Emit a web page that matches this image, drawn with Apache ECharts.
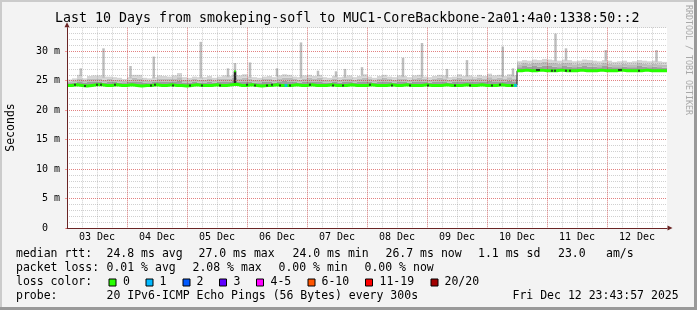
<!DOCTYPE html>
<html><head><meta charset="utf-8">
<script src="https://cdn.jsdelivr.net/npm/echarts@6/dist/echarts.min.js"></script>
<style>html,body{margin:0;padding:0;background:#f3f3f3}#c{width:697px;height:310px}</style>
</head><body><div id="c"></div>
<script>
// ---------------- data (hours from 03 Dec 00:00, 2-hour buckets) ----------------
const dayLabels = ['03 Dec','04 Dec','05 Dec','06 Dec','07 Dec','08 Dec','09 Dec','10 Dec','11 Dec','12 Dec'];
const bucketHours = 2;
const median = [
 24.2,24.3,24.2,24.1,24.2,24.3,24.3,24.2,24.2,24.3, 24.2,24.2,24.3,24.2,24.1,24.2,24.2,24.3,24.2,24.2,
 24.3,24.2,24.2,24.1,24.2,24.3,24.2,24.2,24.2,24.3, 24.2,24.2,24.3,24.4,24.2,24.2,24.3,24.2,24.1,24.2,
 24.2,24.3,24.2,24.2,24.2,24.3,24.2,24.2,24.3,24.2, 24.2,24.2,24.3,24.2,24.2,24.2,24.3,24.2,24.2,24.2,
 24.3,24.2,24.2,24.2,24.3,24.2,24.2,24.3,24.2,24.2, 24.2,24.3,24.2,24.2,24.2,24.3,24.2,24.2,24.2,24.3,
 24.2,24.2,24.3,24.2,24.2,24.2,24.3,24.2,24.2,24.2, 26.7,26.8,26.7,26.7,26.8,26.7,26.7,26.7,26.8,26.7,
 26.7,26.7,26.8,26.7,26.7,26.7,26.8,26.7,26.7,26.7, 26.8,26.7,26.7,26.7,26.7,26.8,26.7,26.7,26.7,26.7
];
const smokeDark = [
 24.6,24.7,24.9,24.7,24.8,24.9,24.8,24.7,24.8,24.8, 24.7,24.6,24.8,24.9,24.8,24.7,24.6,24.8,24.9,24.8,
 24.8,24.9,25.0,24.7,24.7,24.8,24.7,24.7,24.8,24.7, 24.8,24.9,24.8,25.0,24.8,24.9,24.8,24.7,24.6,24.8,
 24.8,24.7,24.9,25.0,24.9,24.8,24.7,24.8,24.9,24.8, 24.9,24.7,24.7,24.8,24.7,24.8,24.9,24.7,24.8,24.9,
 24.8,24.7,24.8,24.9,24.8,24.7,24.9,24.8,24.7,24.8, 24.9,24.8,24.7,24.8,24.9,24.9,24.7,24.8,24.9,24.8,
 24.9,24.8,24.9,24.8,25.0,24.9,24.9,24.8,25.0,24.9, 27.3,27.5,27.4,27.5,27.4,27.6,27.5,27.4,27.3,27.5,
 27.4,27.3,27.4,27.5,27.4,27.4,27.3,27.5,27.4,27.3, 27.3,27.4,27.3,27.3,27.5,27.4,27.3,27.4,27.3,27.2
];
const smokeMid = [
 24.9,25.1,25.4,25.1,25.3,25.4,25.3,25.2,25.3,25.2, 25.1,25.0,25.2,25.5,25.4,25.1,25.0,25.2,25.4,25.3,
 25.3,25.4,25.6,25.2,25.1,25.3,25.2,25.2,25.3,25.1, 25.3,25.4,25.3,25.5,25.4,25.5,25.3,25.2,25.1,25.3,
 25.3,25.2,25.4,25.5,25.5,25.3,25.2,25.4,25.5,25.3, 25.5,25.2,25.1,25.3,25.2,25.3,25.4,25.2,25.3,25.5,
 25.3,25.1,25.3,25.5,25.3,25.2,25.4,25.3,25.2,25.4, 25.5,25.3,25.2,25.3,25.5,25.4,25.2,25.3,25.5,25.3,
 25.4,25.3,25.5,25.3,25.6,25.4,25.5,25.3,25.6,25.4, 27.8,28.0,27.9,28.1,28.0,28.2,28.1,28.0,27.9,28.1,
 28.0,27.8,27.9,28.1,28.0,27.9,27.8,28.0,27.9,27.8, 27.8,27.9,27.8,27.8,28.0,27.9,27.8,27.9,27.8,27.7
];
const smokeLight = [
 25.2,25.4,26.0,25.4,25.8,25.9,25.9,25.7,25.7,25.6, 25.5,25.3,25.6,26.0,26.0,25.5,25.4,25.6,25.9,25.8,
 25.7,25.9,26.3,25.6,25.5,25.7,25.6,25.6,25.8,25.5, 25.7,25.9,25.8,26.0,25.9,26.1,25.7,25.6,25.5,25.7,
 25.8,25.6,25.9,26.1,26.0,25.7,25.6,25.9,26.0,25.8, 26.0,25.6,25.5,25.8,25.6,25.7,25.9,25.6,25.8,26.1,
 25.7,25.5,25.8,26.0,25.7,25.6,25.9,25.8,25.6,25.9, 26.0,25.7,25.6,25.8,26.0,25.9,25.6,25.7,26.1,25.8,
 25.9,25.7,26.0,25.8,26.2,25.9,26.0,25.8,26.1,25.9, 28.3,28.5,28.4,28.6,28.5,28.7,28.6,28.5,28.4,28.6,
 28.5,28.3,28.4,28.6,28.5,28.4,28.3,28.5,28.4,28.2, 28.3,28.4,28.2,28.3,28.5,28.4,28.3,28.4,28.3,28.2
];
const spikeHours = [5.5,14.6,25.4,34.7,53.5,64.4,67.2,73.2,84.0,93.6,100.4,107.6,111.2,118.0,134.4,142.0,152.0,160.0,174.3,178.4,195.4,199.6,215.5,235.8];
const spikeTops  = [27.1,30.5,27.5,29.1,31.6,27.1,28.0,28.1,27.1,31.5,26.7,26.6,27.0,27.3,28.9,31.4,27.0,28.5,30.8,27.1,33.0,30.5,30.2,30.2];
const darkSpikeHours = [67.2];
const darkSpikeTops  = [26.6];
const blackDotHours = [3.2,7.2,12,13.6,19.2,33.6,35.2,42.4,49.2,54,61.2,72,75.2,80,82,85.2,89.2,97.2,106.4,110.4,121.2,130,137.2,144.4,155.2,161.2,170,173.2,178,188,188.8,194,195.2,199.6,201.2,220.8,221.6,228.8];
const lossDotHours = [87.6,179.4];
const lossDotColors = ['#00b8ff','#00b8ff'];
const yTicks = [0,5,10,15,20,25,30];

const lossLegend = [['0','#26ff00'],['1','#00b8ff'],['2','#0059ff'],['3','#5e00ff'],['4-5','#ff00ff'],['6-10','#ff5500'],['11-19','#ff0000'],['20/20','#a10000']];
const row1 = [['median rtt:',16],['24.8 ms avg',106.5],['27.0 ms max',198.5],['24.0 ms min',292.5],['26.7 ms now',385.5],['1.1 ms sd',478],['23.0',558],['am/s',606]];
const row2 = [['packet loss:',16],['0.01 % avg',106.5],['2.08 % max',192.5],['0.00 % min',278.5],['0.00 % now',364.5]];
const row4 = [['probe:',16],['20 IPv6-ICMP Echo Pings (56 Bytes) every 300s',106.5],['Fri Dec 12 23:43:57 2025',512.5]];
const lossBoxX = [108.5,145.5,182.5,219,256,307.5,365,430.5];
const lossLabelX = [123,159.5,196.5,233.5,270.5,321.5,379.5,444.5];

// ---------------- build ----------------
const MONO = '"DejaVu Sans Mono", monospace';
const medAt = h => median[Math.min(median.length-1, Math.floor(h / bucketHours))];
const lightAt = h => smokeLight[Math.min(median.length-1, Math.floor(h / bucketHours))];

const smokeData = median.map((m,i) => [i*bucketHours, (i+1)*bucketHours, m, smokeDark[i], smokeMid[i], smokeLight[i]]);
const medPts = [], greenPts = [];
median.forEach((v,i) => {
  const x0 = i*bucketHours, x1 = x0 + bucketHours;
  if (i > 0 && Math.abs(v - median[i-1]) > 0.5) greenPts.push([x0, null]);
  medPts.push([x0, v], [x1, v]);
  greenPts.push([x0, v], [x1, v]);
});
const spikeData = spikeHours.map((h,i) => [h, lightAt(h) - 0.2, spikeTops[i], 0])
  .concat(darkSpikeHours.map((h,i) => [h, medAt(h), darkSpikeTops[i], 1]));

const grey = 'rgba(120,120,120,0.35)';
const red = 'rgba(255,0,0,0.38)';
const axisCol = '#6a2424';

const graphic = [];
graphic.push({type:'rect', shape:{x:0,y:0,width:697,height:2}, style:{fill:'#cbcbcb'}, z:100});
graphic.push({type:'rect', shape:{x:0,y:0,width:2,height:310}, style:{fill:'#cbcbcb'}, z:100});
graphic.push({type:'rect', shape:{x:0,y:307,width:697,height:3}, style:{fill:'#999999'}, z:100});
graphic.push({type:'rect', shape:{x:694,y:0,width:3,height:310}, style:{fill:'#999999'}, z:100});
graphic.push({type:'text', x:55, y:18.7, style:{text:'Last 10 Days from smokeping-sofl to MUC1-CoreBackbone-2a01:4a0:1338:50::2', font:'13.3px '+MONO, fill:'#000', align:'left', verticalAlign:'middle'}});
graphic.push({type:'text', x:11, y:127.5, rotation:Math.PI/2, style:{text:'Seconds', font:'11.5px '+MONO, fill:'#000', align:'center', verticalAlign:'middle'}});
graphic.push({type:'text', x:688.5, y:60, rotation:-Math.PI/2, style:{text:'RRDTOOL / TOBI OETIKER', font:'8.3px '+MONO, fill:'#a8a8a8', align:'center', verticalAlign:'middle'}});
const addRow = (segs, y) => segs.forEach(s => graphic.push({type:'text', x:s[1], y:y, style:{text:s[0], font:'11.5px '+MONO, fill:'#000', align:'left', verticalAlign:'middle'}}));
addRow(row1, 254.3);
addRow(row2, 268.3);
addRow([['loss color:',16]], 282.3);
addRow(row4, 296.3);
lossLegend.forEach((l,i) => {
  graphic.push({type:'rect', shape:{x:lossBoxX[i]+0.5, y:279, width:7, height:7}, style:{fill:l[1], stroke:'#000', lineWidth:1}});
  graphic.push({type:'text', x:lossLabelX[i], y:282.3, style:{text:l[0], font:'11.5px '+MONO, fill:'#000', align:'left', verticalAlign:'middle'}});
});

const hid = {show:false};
const option = {
  animation:false,
  backgroundColor:'#f3f3f3',
  grid:[{left:67, top:27.7, width:600, height:200.3, show:true, backgroundColor:'#ffffff', borderWidth:0}],
  xAxis:[
    {type:'value', min:0, max:240, interval:6, z:3, axisLine:hid, axisTick:hid, axisLabel:hid,
     splitLine:{show:true, showMaxLine:false, showMinLine:false, lineStyle:{color:grey, width:1, type:[1,1]}}},
    {type:'value', min:0, max:240, interval:24, z:4, axisLine:hid, axisTick:hid, axisLabel:hid,
     splitLine:{show:true, showMaxLine:false, showMinLine:false, lineStyle:{color:red, width:1, type:[1,1]}}},
    {type:'category', data:dayLabels, boundaryGap:true, position:'bottom', axisLine:hid, axisTick:hid, splitLine:hid,
     axisLabel:{interval:0, margin:4.5, color:'#000', fontFamily:MONO, fontSize:10}},
    {type:'value', min:0, max:240, position:'bottom', z:6, axisTick:hid, axisLabel:hid, splitLine:hid,
     axisLine:{show:true, onZero:false, symbol:['none','triangle'], symbolSize:[5,5], symbolOffset:[0,3], lineStyle:{color:axisCol, width:1}}}
  ],
  yAxis:[
    {type:'value', min:0, max:34, interval:1, z:3, axisLine:hid, axisTick:hid, axisLabel:hid,
     splitLine:{show:true, showMinLine:false, lineStyle:{color:grey, width:1, type:[1,1]}}},
    {type:'value', min:0, max:34, interval:5, z:4, position:'left', axisLine:hid,
     axisTick:{show:true, length:2, lineStyle:{color:red}},
     axisLabel:{show:true, showMaxLabel:false, margin:7, color:'#000', fontFamily:MONO, fontSize:10,
       formatter: v => yTicks.indexOf(v) < 0 ? '' : (v === 0 ? '0  ' : (v < 10 ? ' ' : '') + v + ' m')},
     splitLine:{show:true, showMaxLine:false, showMinLine:false, lineStyle:{color:red, width:1, type:[1,1]}}},
    {type:'value', min:0, max:34, position:'left', z:6, axisTick:hid, axisLabel:hid, splitLine:hid,
     axisLine:{show:true, onZero:false, symbol:['none','triangle'], symbolSize:[5,5], symbolOffset:[0,3], lineStyle:{color:axisCol, width:1}}}
  ],
  series:[
    {type:'custom', name:'smoke', xAxisIndex:0, yAxisIndex:0, z:2, silent:true, data:smokeData,
     encode:{x:[0,1], y:[2,3,4,5]},
     renderItem:(params, api) => {
       const x0 = api.value(0), x1 = api.value(1);
       const lv = [api.value(2), api.value(3), api.value(4), api.value(5)];
       const cols = ['#9e9e9e','#bcbcbc','#d4d4d4'];
       const children = [];
       for (let k = 0; k < 3; k++) {
         const a = api.coord([x0, lv[k]]), b = api.coord([x1, lv[k+1]]);
         children.push({type:'rect', shape:{x:a[0], y:b[1], width:b[0]-a[0], height:a[1]-b[1]}, style:{fill:cols[k]}});
       }
       return {type:'group', children};
     }},
    {type:'custom', name:'spikes', xAxisIndex:0, yAxisIndex:0, z:2, silent:true, data:spikeData,
     encode:{x:0, y:[1,2]},
     renderItem:(params, api) => {
       const h = api.value(0);
       const a = api.coord([h, api.value(1)]), b = api.coord([h, api.value(2)]);
       const dark = api.value(3) === 1;
       const w = 2.5;
       return {type:'rect', shape:{x:a[0]-w/2, y:b[1], width:w, height:a[1]-b[1]}, style:{fill: dark ? '#262626' : '#bebebe'}};
     }},
    {type:'line', name:'median', xAxisIndex:0, yAxisIndex:0, z:5, data:medPts, showSymbol:false, symbol:'none',
     lineStyle:{color:'#202020', width:1}},
    {type:'line', name:'median loss 0', xAxisIndex:0, yAxisIndex:0, z:5, data:greenPts, showSymbol:false, symbol:'none', connectNulls:false,
     lineStyle:{color:'#26ff00', width:3}},
    {type:'scatter', xAxisIndex:0, yAxisIndex:0, z:6, symbol:'rect', symbolSize:[2,2], silent:true,
     itemStyle:{color:'#202020'}, data: blackDotHours.map(h => [h, medAt(h)])},
    {type:'scatter', xAxisIndex:0, yAxisIndex:0, z:6, symbol:'rect', symbolSize:[2,2], silent:true,
     itemStyle:{color:'#26ff00'}, data: darkSpikeHours.map((h,i) => [h, darkSpikeTops[i]])},
    {type:'scatter', xAxisIndex:0, yAxisIndex:0, z:6, symbol:'rect', symbolSize:[3,3], silent:true,
     data: lossDotHours.map((h,i) => ({value:[h, medAt(h)], itemStyle:{color:lossDotColors[i]}}))}
  ],
  graphic: graphic
};
const chart = echarts.init(document.getElementById('c'), null, {renderer:'canvas'});
chart.setOption(option);
</script></body></html>
